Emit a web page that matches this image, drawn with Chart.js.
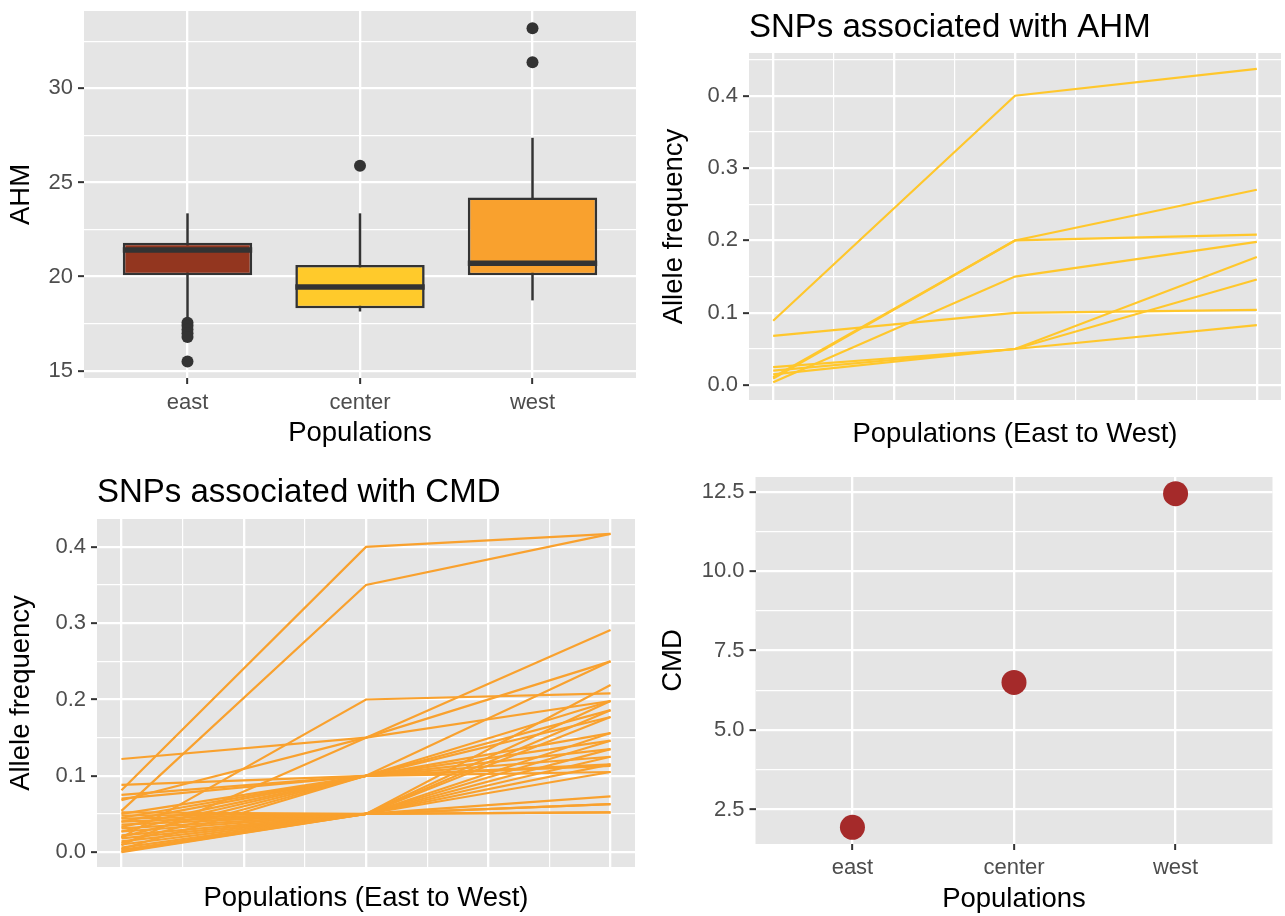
<!DOCTYPE html>
<html><head><meta charset="utf-8">
<script src="https://cdn.jsdelivr.net/npm/chart.js@4.4.1/dist/chart.umd.min.js"></script>
<style>
html,body{margin:0;padding:0;background:#fff;width:1285px;height:916px;overflow:hidden;}
.p{position:absolute;}
canvas{display:block;}
</style></head><body>
<div class="p" style="left:0;top:0;"><canvas id="c1" width="642" height="458"></canvas></div>
<div class="p" style="left:642px;top:0;"><canvas id="c2" width="643" height="458"></canvas></div>
<div class="p" style="left:0;top:458px;"><canvas id="c3" width="642" height="458"></canvas></div>
<div class="p" style="left:642px;top:458px;"><canvas id="c4" width="643" height="458"></canvas></div>
<script>
// ---------- data ----------
const categories = ['east', 'center', 'west'];
const catPos = [1, 2, 3];

// AHM box plot
const boxQ1 = [20.07, 18.32, 20.07];
const boxMedian = [21.41, 19.45, 20.71];
const boxQ3 = [21.80, 20.62, 24.20];
const whiskerLow = [17.75, 18.15, 18.74];
const whiskerHigh = [23.36, 23.36, 27.37];
const outlierCat = [1, 1, 1, 1, 1, 1, 2, 3, 3];
const outlierVal = [17.55, 17.4, 17.2, 17.0, 16.8, 15.5, 25.88, 31.38, 33.18];
const boxColors = ['#93361F', '#FFCA2B', '#F9A12E'];
const ahmBoxTicks = [15, 17.5, 20, 22.5, 25, 27.5, 30, 32.5];

// SNPs associated with AHM (east, center, west)
const ahmEast   = [0.089, 0.011, 0.009, 0.004, 0.068, 0.025, 0.020, 0.015];
const ahmCenter = [0.40,  0.20,  0.20,  0.15,  0.10,  0.05,  0.05,  0.05];
const ahmWest   = [0.437, 0.270, 0.208, 0.198, 0.104, 0.083, 0.177, 0.146];

// SNPs associated with CMD (east, center, west)
const cmdEast   = [0.081, 0.054, 0.019, 0.122, 0.068, 0.009, 0.088, 0.075, 0.070, 0.050, 0.045, 0.040, 0.033, 0.027, 0.020, 0.012, 0.004,
                   0.052, 0.048, 0.044, 0.040, 0.036, 0.031, 0.027, 0.022, 0.018, 0.014, 0.010, 0.006, 0.003, 0.000, 0.001];
const cmdCenter = [0.40, 0.35, 0.20, 0.15, 0.15, 0.15, 0.10, 0.10, 0.10, 0.10, 0.10, 0.10, 0.10, 0.10, 0.10, 0.10, 0.10,
                   0.05, 0.05, 0.05, 0.05, 0.05, 0.05, 0.05, 0.05, 0.05, 0.05, 0.05, 0.05, 0.05, 0.05, 0.05];
const cmdWest   = [0.417, 0.417, 0.208, 0.198, 0.250, 0.291, 0.105, 0.115, 0.125, 0.135, 0.146, 0.156, 0.177, 0.198, 0.250, 0.113, 0.186,
                   0.052, 0.063, 0.073, 0.219, 0.186, 0.177, 0.156, 0.146, 0.135, 0.125, 0.115, 0.105, 0.052, 0.063, 0.198];
const freqTicks = [0, 0.05, 0.1, 0.15, 0.2, 0.25, 0.3, 0.35, 0.4, 0.45];
const lineXTicks = [1, 1.25, 1.5, 1.75, 2, 2.25, 2.5, 2.75, 3];

// CMD by population
const cmdValue = [1.94, 6.50, 12.44];
const cmdTicks = [2.5, 3.75, 5, 6.25, 7.5, 8.75, 10, 11.25, 12.5];

// ---------- style helpers ----------
Chart.defaults.font.family = '"Liberation Sans", Arial, Helvetica, sans-serif';
Chart.defaults.animation = false;
Chart.defaults.plugins.legend.display = false;
Chart.defaults.plugins.tooltip.enabled = false;

const PANEL_BG = '#E5E5E5';
const TICK_TXT = '#4D4D4D';
const bgPlugin = {
  id: 'panelBg',
  beforeDraw(chart) {
    const a = chart.chartArea, c = chart.ctx;
    c.save(); c.fillStyle = PANEL_BG; c.fillRect(a.left, a.top, a.right - a.left, a.bottom - a.top); c.restore();
  }
};
const multipleOf = (v, s) => Math.abs(v / s - Math.round(v / s)) < 1e-6;

function gridOpts(isMajor, showTicks) {
  return {
    color: '#FFFFFF',
    lineWidth: c => (c.tick && isMajor(c.tick.value)) ? 2.3 : 1.2,
    drawTicks: showTicks,
    tickLength: 6,
    tickWidth: 2,
    tickColor: c => (c.tick && isMajor(c.tick.value)) ? '#333333' : 'rgba(0,0,0,0)',
    offset: false
  };
}

function yAxis(cfg) {
  return {
    type: 'linear', min: cfg.min, max: cfg.max, beginAtZero: false,
    afterBuildTicks: s => { s.ticks = cfg.ticks.map(v => ({ value: v })); },
    afterFit: s => { s.width = cfg.width; s.paddingTop = 0; s.paddingBottom = 0; },
    ticks: { autoSkip: false, color: TICK_TXT, font: { size: 22 }, padding: 5,
      callback: v => cfg.isMajor(v) ? cfg.fmt(v) : '' },
    grid: gridOpts(cfg.isMajor, true),
    border: { display: false },
    title: { display: true, text: cfg.title, color: '#000000', font: { size: 27.5, lineHeight: 1.2 },
      padding: { top: cfg.titlePad, bottom: 0 } }
  };
}

function xAxis(cfg) {
  return {
    type: 'linear', min: cfg.min, max: cfg.max, offset: false,
    afterBuildTicks: s => { s.ticks = cfg.ticks.map(v => ({ value: v })); },
    afterFit: s => { s.height = cfg.height; s.paddingLeft = 0; s.paddingRight = 0; },
    ticks: { display: cfg.labels, autoSkip: false, maxRotation: 0, color: TICK_TXT, font: { size: 22 }, padding: cfg.tickPad || 3,
      callback: v => cfg.labels ? categories[Math.round(v) - 1] : '' },
    grid: gridOpts(cfg.isMajor, cfg.labels),
    border: { display: false },
    title: { display: true, text: cfg.title, color: '#000000', font: { size: 27.5, lineHeight: 1.2 },
      padding: { top: 0, bottom: cfg.titlePad } }
  };
}

function titleOpts(text, padTop, padBottom) {
  return { display: true, text: text, align: 'start', fullSize: false, color: '#000000',
    font: { size: 33, weight: 'normal', lineHeight: 1.2 }, padding: { top: padTop, bottom: padBottom } };
}

// ---------- panel 1: AHM box plot ----------
const boxDatasets = [];
catPos.forEach((x, i) => {
  boxDatasets.push({ type: 'line', data: [{ x: x, y: whiskerLow[i] }, { x: x, y: whiskerHigh[i] }],
    borderColor: '#333333', borderWidth: 2.5, pointRadius: 0, order: 3 });
});
boxDatasets.push({ type: 'bar', data: catPos.map((x, i) => ({ x: x, y: [boxQ1[i], boxQ3[i]] })),
  backgroundColor: boxColors, borderColor: '#333333', borderWidth: 2.6, borderSkipped: false,
  barPercentage: 0.75, categoryPercentage: 1, grouped: false, order: 2 });
catPos.forEach((x, i) => {
  boxDatasets.push({ type: 'line', data: [{ x: x - 0.375, y: boxMedian[i] }, { x: x + 0.375, y: boxMedian[i] }],
    borderColor: '#333333', borderWidth: 5.5, borderCapStyle: 'butt', pointRadius: 0, order: 1 });
});
boxDatasets.push({ type: 'scatter', data: outlierVal.map((v, k) => ({ x: outlierCat[k], y: v })),
  backgroundColor: '#333333', borderWidth: 0, pointRadius: 6, order: 0 });

new Chart(document.getElementById('c1'), {
  type: 'bar',
  data: { datasets: boxDatasets },
  options: {
    responsive: false,
    layout: { padding: { left: 0, top: 11, right: 6, bottom: 0 } },
    scales: {
      x: xAxis({ min: 0.4, max: 3.6, ticks: catPos, isMajor: () => true, labels: true, height: 80,
        title: 'Populations', titlePad: 8, tickPad: 6 }),
      y: yAxis({ min: 14.62, max: 34.1, ticks: ahmBoxTicks, isMajor: v => multipleOf(v, 5), fmt: v => String(v),
        width: 84, title: 'AHM', titlePad: 5 })
    }
  },
  plugins: [bgPlugin]
});

// ---------- line panels ----------
function lineSets(east, center, west, color) {
  return east.map((e, i) => ({
    data: [{ x: 1, y: e }, { x: 2, y: center[i] }, { x: 3, y: west[i] }],
    showLine: true, borderColor: color, borderWidth: 2.2, pointRadius: 0, tension: 0
  }));
}

new Chart(document.getElementById('c2'), {
  type: 'scatter',
  data: { datasets: lineSets(ahmEast, ahmCenter, ahmWest, '#FFC72C') },
  options: {
    responsive: false,
    layout: { padding: { left: 0, top: 0, right: 4, bottom: 0 } },
    plugins: { title: titleOpts('SNPs associated with AHM', 8.2, 5.2) },
    scales: {
      x: xAxis({ min: 0.9, max: 3.1, ticks: lineXTicks, isMajor: v => multipleOf(v, 0.5), labels: false, height: 58,
        title: 'Populations (East to West)', titlePad: 7.5 }),
      y: yAxis({ min: -0.0205, max: 0.459, ticks: freqTicks, isMajor: v => multipleOf(v, 0.1), fmt: v => v.toFixed(1),
        width: 107, title: 'Allele frequency', titlePad: 16 })
    }
  },
  plugins: [bgPlugin]
});

new Chart(document.getElementById('c3'), {
  type: 'scatter',
  data: { datasets: lineSets(cmdEast, cmdCenter, cmdWest, '#F9A12E') },
  options: {
    responsive: false,
    layout: { padding: { left: 0, top: 0, right: 7, bottom: 0 } },
    plugins: { title: titleOpts('SNPs associated with CMD', 15.2, 6.2) },
    scales: {
      x: xAxis({ min: 0.9, max: 3.1, ticks: lineXTicks, isMajor: v => multipleOf(v, 0.5), labels: false, height: 49,
        title: 'Populations (East to West)', titlePad: 1 }),
      y: yAxis({ min: -0.0195, max: 0.4365, ticks: freqTicks, isMajor: v => multipleOf(v, 0.1), fmt: v => v.toFixed(1),
        width: 97, title: 'Allele frequency', titlePad: 5 })
    }
  },
  plugins: [bgPlugin]
});

// ---------- panel 4: CMD points ----------
new Chart(document.getElementById('c4'), {
  type: 'scatter',
  data: { datasets: [{ data: catPos.map((x, i) => ({ x: x, y: cmdValue[i] })),
    backgroundColor: '#A52A2A', borderWidth: 0, pointRadius: 12.5 }] },
  options: {
    responsive: false,
    layout: { padding: { left: 0, top: 19, right: 4, bottom: 0 } },
    scales: {
      x: xAxis({ min: 0.4, max: 3.6, ticks: catPos, isMajor: () => true, labels: true, height: 72,
        title: 'Populations', titlePad: 0, tickPad: 5 }),
      y: yAxis({ min: 1.415, max: 12.965, ticks: cmdTicks, isMajor: v => multipleOf(v, 2.5), fmt: v => v.toFixed(1),
        width: 113.5, title: 'CMD', titlePad: 15 })
    }
  },
  plugins: [bgPlugin]
});
</script>
</body></html>
